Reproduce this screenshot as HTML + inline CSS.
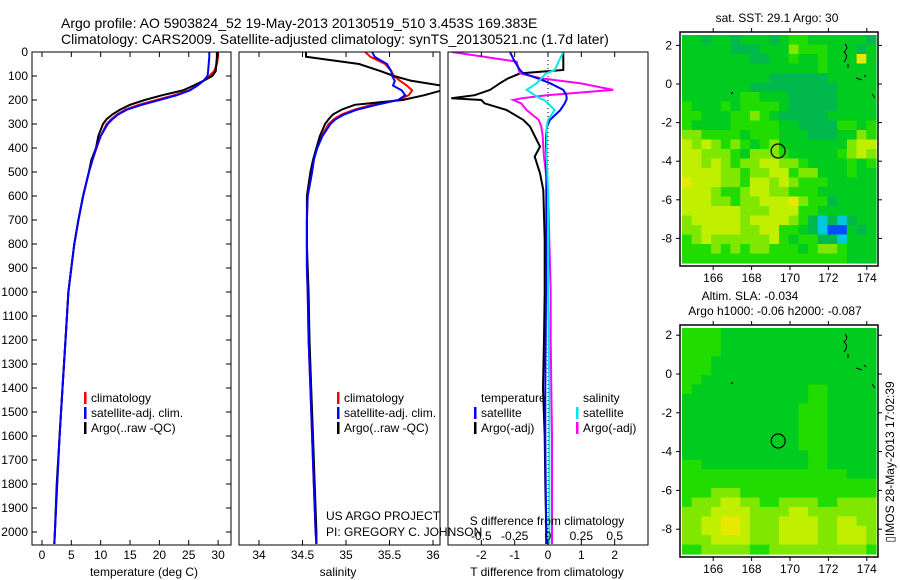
<!DOCTYPE html>
<html><head><meta charset="utf-8">
<style>
html,body{margin:0;padding:0;background:#fff;}
svg{display:block;font-family:"Liberation Sans",sans-serif;}
</style></head>
<body>
<svg id="fig" width="900" height="580" viewBox="0 0 900 580" xmlns="http://www.w3.org/2000/svg">
<text x="61" y="28" font-size="14">Argo profile: AO 5903824_52 19-May-2013 20130519_510 3.453S 169.383E</text>
<text x="61" y="44" font-size="14">Climatology: CARS2009. Satellite-adjusted climatology: synTS_20130521.nc (1.7d later)</text>
<g id="g1"></g>
<g id="g2"></g>
<g id="g3"></g>
<g id="m1"></g>
<g id="m2"></g>
<text x="144" y="576" font-size="12" text-anchor="middle">temperature (deg C)</text>
<text x="338" y="576" font-size="12" text-anchor="middle">salinity</text>
<text x="547" y="576" font-size="12" text-anchor="middle">T difference from climatology</text>
<text x="547" y="525" font-size="12" text-anchor="middle">S difference from climatology</text>
<text x="326" y="520" font-size="12">US ARGO PROJECT</text>
<text x="326" y="536" font-size="12">PI: GREGORY C. JOHNSON</text>
<text x="777" y="22" font-size="12" text-anchor="middle">sat. SST: 29.1 Argo: 30</text>
<text x="750" y="300" font-size="12" text-anchor="middle">Altim. SLA: -0.034</text>
<text x="775" y="315" font-size="12" text-anchor="middle">Argo h1000: -0.06 h2000: -0.087</text>
<text transform="translate(894,462) rotate(-90)" font-size="12" text-anchor="middle">▯IMOS 28-May-2013 17:02:39</text>
</svg>
<script>
// ---- profile data ----
const depth = [0,20,50,80,100,120,140,160,180,200,220,240,260,280,300,350,400,450,500,600,700,800,900,1000,1200,1400,1600,1800,2000,2050];
const tempClim = [30.0,30.0,29.8,29.3,28.5,27.5,26.5,25.0,22.5,19.5,16.5,14.2,12.8,11.8,11.0,10.0,9.3,8.6,8.0,7.0,6.2,5.5,5.0,4.5,4.0,3.5,3.0,2.6,2.2,2.1];
const tempSat = [28.5,28.5,28.4,28.3,28.2,27.5,26.5,25.2,23.0,20.0,17.0,14.5,13.0,12.0,11.2,10.0,9.2,8.6,8.0,7.0,6.2,5.5,5.0,4.5,4.0,3.5,3.0,2.6,2.2,2.1];
const tempArgo = [29.8,29.8,29.7,29.6,29.0,27.5,25.8,24.0,20.5,17.5,15.0,13.3,12.0,11.0,10.4,9.6,9.2,8.4,8.0,7.0,6.2,5.5,5.0,4.5,4.0,3.5,3.0,2.5,2.2,2.1];
const salClim = [35.22,35.28,35.45,35.52,35.55,35.62,35.70,35.76,35.72,35.60,35.30,35.10,34.95,34.86,34.80,34.72,34.66,34.63,34.61,34.56,34.55,34.55,34.55,34.56,34.57,34.59,34.61,34.63,34.65,34.66];
const salSat = [35.30,35.33,35.47,35.52,35.53,35.56,35.54,35.64,35.68,35.60,35.35,35.13,34.98,34.88,34.82,34.73,34.67,34.63,34.61,34.56,34.55,34.55,34.55,34.56,34.57,34.59,34.61,34.63,34.65,34.66];
const salArgo = [34.54,34.54,35.15,35.40,35.55,35.75,36.10,36.10,35.90,35.65,35.10,34.95,34.85,34.80,34.76,34.70,34.66,34.62,34.59,34.55,34.55,34.55,34.56,34.57,34.58,34.60,34.62,34.64,34.66,34.66];
const diffDepth = [0,40,75,89,110,130,158,180,193,200,214,242,283,311,350,394,436,505,575,783,1000,1200,1400,1600,1800,2000,2050];
const dTsat = [-1.14,-1.0,-0.84,-0.74,-0.3,0.06,0.46,0.55,0.56,0.55,0.5,0.37,0.06,-0.03,-0.06,-0.06,-0.05,-0.05,-0.05,-0.05,-0.06,-0.07,-0.08,-0.08,-0.07,-0.05,-0.05];
const dTargo = [0.46,0.46,0.46,-0.84,-1.2,-1.44,-1.74,-2.2,-2.9,-2.0,-1.9,-1.24,-0.74,-0.54,-0.4,-0.24,-0.4,-0.24,-0.14,-0.1,-0.1,-0.12,-0.15,-0.1,-0.08,-0.05,-0.05];
const dSsat = [0.115,0.08,0.05,-0.015,-0.05,-0.085,-0.16,-0.1,-0.06,-0.03,0.0,0.05,0.0,-0.01,-0.01,-0.01,-0.01,-0.005,0.0,0.0,0.0,0.005,0.01,0.01,0.01,0.01,0.01];
const dSargo = [-0.72,-0.235,-0.22,-0.21,-0.05,0.24,0.49,-0.01,-0.2,-0.26,-0.2,-0.16,-0.07,-0.05,-0.04,-0.035,-0.03,-0.015,0.0,0.01,0.02,0.02,0.025,0.03,0.03,0.03,0.03];
const depthTicks = [0,100,200,300,400,500,600,700,800,900,1000,1100,1200,1300,1400,1500,1600,1700,1800,1900,2000];
const tempTicks = [0,5,10,15,20,25,30];
const salTicks = [34,34.5,35,35.5,36];
const dTTicks = [-2,-1,0,1,2];
const dSTicks = [-0.5,-0.25,0,0.25,0.5];
// ---- map data (digits = colour level) ----
const sstRows = [
"44344344434554444443","44444333444655544434","44444443344544544484","44444444444444544444",
"44444444433333344444","44444443333333334444","44444455444333334444","54445455554333334444",
"55444556543333344444","54444555554433335545","66555545554443334465","76765654564444444677",
"77666546665444445676","77676566776654444545","77776656677566444544","87776657767655544444",
"77765567766555444444","77766566777865534444","77777766677755444444","67777767777653232344",
"66777766775543211434","56766666675455332444","55565656655545665444","55555555555555555444"];
const slaRows = [
"55554444444444444444","55554444444444444444","55554444444444444444","55544444444444444444",
"55544444444444444444","55444444444444444444","54444444444445544444","44444444444445544444",
"44444444444455544444","44444444444455544444","44444444444455544444","44444444444455544444",
"44444444444455544444","44444444444445544444","55444444444445544444","55555555555555555444",
"55555555555555555555","55566655555555555555","56667766556666556666","66677776666776666666",
"66778876667777667766","66778876667777667776","66677776667777667776","55666665566666666665"];
const palette = ["#00008c","#0050ff","#00c8d8","#00b84c","#00cc20","#20dc00","#80e800","#c0f000","#e8e800","#f8b000"];

const NS="http://www.w3.org/2000/svg";
function mk(parent,tag,attrs){const e=document.createElementNS(NS,tag);for(const k in attrs)e.setAttribute(k,attrs[k]);parent.appendChild(e);return e;}
const yTop=52, yBot=545;
function yD(d){return yTop + d*0.24;}

function panel(g,x0,x1,xmin,xmax){
  const sx=v=>x0+(v-xmin)/(xmax-xmin)*(x1-x0);
  const clip=mk(g,'clipPath',{id:'c'+x0});
  mk(clip,'rect',{x:x0,y:yTop,width:x1-x0,height:yBot-yTop});
  return sx;
}
function line(g,xs,ys,sx,color,w,clipId,name){
  let d='';for(let i=0;i<xs.length;i++){d+=(i?'L':'M')+sx(xs[i]).toFixed(1)+','+yD(ys[i]).toFixed(1);}
  const p=mk(g,'path',{d:d,fill:'none',stroke:color,'stroke-width':w,'clip-path':'url(#'+clipId+')'});
  
  
}
function frame(g,x0,x1,name){
  const r=mk(g,'rect',{x:x0,y:yTop,width:x1-x0,height:yBot-yTop,fill:'none',stroke:'#000','stroke-width':1});
  
  
}
function xticks(g,ticks,sx,labY,top,bot,fmt){
  ticks.forEach(t=>{
    const x=sx(t);
    if(bot) mk(g,'line',{x1:x,x2:x,y1:yBot,y2:yBot-5,stroke:'#000'});
    if(top) mk(g,'line',{x1:x,x2:x,y1:yTop,y2:yTop+5,stroke:'#000'});
    if(labY){const tx=mk(g,'text',{x:x,y:labY,'font-size':12,'text-anchor':'middle'});tx.textContent=fmt?fmt(t):String(t);
      
      }
  });
}
function legend(g,x,y,items){
  items.forEach((it,i)=>{
    const yy=y+i*15;
    if(it[1]) mk(g,'rect',{x:x,y:yy-10,width:2.5,height:12,fill:it[1]});
    const t=mk(g,'text',{x:x+7,y:yy,'font-size':12});t.textContent=it[0];
    
    
  });
}

// Panel 1
const g1=document.getElementById('g1');
const sx1=panel(g1,32,231,-1.7,32.2);
line(g1,tempClim,depth,sx1,'#ff0000',2,'c32','temp-climatology-line');
line(g1,tempArgo,depth,sx1,'#000000',2,'c32','temp-argo-line');
line(g1,tempSat,depth,sx1,'#0000ff',2,'c32','temp-satellite-line');
frame(g1,32,231,'temperature-frame');
xticks(g1,tempTicks,sx1,559,true,true);
depthTicks.forEach(d=>{
  mk(g1,'line',{x1:32,x2:37,y1:yD(d),y2:yD(d),stroke:'#000'});
  mk(g1,'line',{x1:231,x2:226,y1:yD(d),y2:yD(d),stroke:'#000'});
  const t=mk(g1,'text',{x:28,y:yD(d)+4,'font-size':12,'text-anchor':'end'});t.textContent=d;
  
  
});
legend(g1,84,402,[['climatology','#ff0000'],['satellite-adj. clim.','#0000ff'],['Argo(..raw -QC)','#000000']]);

// Panel 2
const g2=document.getElementById('g2');
const sx2=panel(g2,239,440,33.77,36.08);
line(g2,salClim,depth,sx2,'#ff0000',2,'c239','sal-climatology-line');
line(g2,salArgo,depth,sx2,'#000000',2,'c239','sal-argo-line');
line(g2,salSat,depth,sx2,'#0000ff',2,'c239','sal-satellite-line');
frame(g2,239,440,'salinity-frame');
xticks(g2,salTicks,sx2,559,true,true);
legend(g2,337,402,[['climatology','#ff0000'],['satellite-adj. clim.','#0000ff'],['Argo(..raw -QC)','#000000']]);

// Panel 3
const g3=document.getElementById('g3');
const sx3=panel(g3,448,648,-3.0,3.0);
const sxS=v=>sx3(v*4);
mk(g3,'line',{x1:sx3(0),x2:sx3(0),y1:yTop,y2:yBot,stroke:'#000','stroke-dasharray':'1,3'});
line(g3,dTargo,diffDepth,sx3,'#000000',2,'c448','dT-argo-line');
line(g3,dSargo,diffDepth,sxS,'#ff00ff',2,'c448','dS-argo-line');
line(g3,dTsat,diffDepth,sx3,'#0000ff',2,'c448','dT-satellite-line');
line(g3,dSsat,diffDepth,sxS,'#00e8e8',2,'c448','dS-satellite-line');
frame(g3,448,648,'difference-frame');
xticks(g3,dTTicks,sx3,559,false,true);
xticks(g3,dSTicks,sxS,540,true,false);
legend(g3,474,402,[['temperature',null],['satellite','#0000ff'],['Argo(-adj)','#000000']]);
legend(g3,576,402,[['salinity',null],['satellite','#00e8e8'],['Argo(-adj)','#ff00ff']]);

// Maps
const lonTicks=[166,168,170,172,174];
const latTicks=[2,0,-2,-4,-6,-8];
function map(id,rows,fx0,fy0,fx1,fy1,lat0y,pxDeg,circY,name){
  const g=document.getElementById(id);
  const dx0=682,dx1=876,dy0=fy0+3,dy1=fy1-3;
  const nr=rows.length,nc=rows[0].length;
  const cw=(dx1-dx0)/nc,ch=(dy1-dy0)/nr;
  rows.forEach((r,i)=>{for(let j=0;j<nc;j++){
    const c=mk(g,'rect',{x:(dx0+j*cw).toFixed(2),y:(dy0+i*ch).toFixed(2),width:(cw+0.6).toFixed(2),height:(ch+0.6).toFixed(2),fill:palette[+r[j]]});
    
    
  }});
  const lonX=l=>790+(l-170)*19.2;
  const latY=l=>lat0y-l*pxDeg;
  const f=mk(g,'rect',{x:fx0,y:fy0,width:fx1-fx0,height:fy1-fy0,fill:'none',stroke:'#000','stroke-width':1.5});
  
  
  lonTicks.forEach(l=>{const x=lonX(l);
    mk(g,'line',{x1:x,x2:x,y1:fy0,y2:fy0-4,stroke:'#000'});
    mk(g,'line',{x1:x,x2:x,y1:fy1,y2:fy1+4,stroke:'#000'});
    const t=mk(g,'text',{x:x,y:fy1+16,'font-size':12,'text-anchor':'middle'});t.textContent=l;
    
    });
  latTicks.forEach(l=>{const y=latY(l);
    mk(g,'line',{x1:fx0,x2:fx0-4,y1:y,y2:y,stroke:'#000'});
    mk(g,'line',{x1:fx1,x2:fx1+4,y1:y,y2:y,stroke:'#000'});
    const t=mk(g,'text',{x:fx0-8,y:y+4,'font-size':12,'text-anchor':'end'});t.textContent=l;
    
    });
  const c0=latY(0);
  mk(g,'path',{d:`M845,${c0-40} q4,4 -1,8 q5,4 0,10 M848,${c0-20} l0,4 M856,${c0-6} l6,2 M864,${c0-9} l2,2 M872,${c0+10} l3,4 M731,${c0+10} l2,-2`,fill:'none',stroke:'#000','stroke-width':1});
  const ci=mk(g,'circle',{cx:lonX(169.383),cy:circY,r:7,fill:'none',stroke:'#000','stroke-width':1.2});
  
  
}
map('m1',sstRows,680,32,878,266,84,19.3,151,'sst-map');
map('m2',slaRows,680,325,878,557,374,19.4,441,'sla-map');
</script>
</body></html>
